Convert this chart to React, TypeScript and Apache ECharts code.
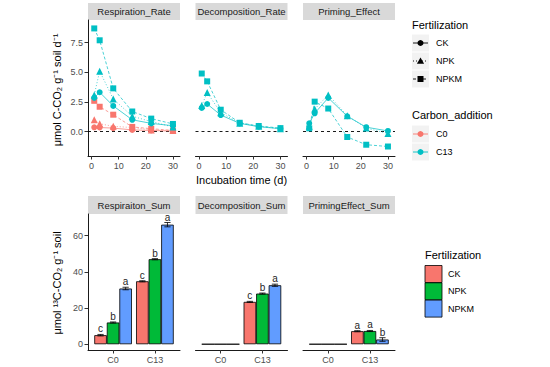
import React, { useEffect, useRef } from "react";
import * as echarts from "echarts";

const FONT = "'Liberation Sans', Arial, Helvetica, sans-serif";

// ---- Top row: rates over incubation time ----
const days = [1, 3, 8, 15, 22, 30];
const timeTicks = [0, 10, 20, 30];
const rateTicks = [0, 2.5, 5, 7.5];

const respC0CK = [0.37, 0.35, 0.3, 0.15, 0.1, 0.05];
const respC0NPK = [1.0, 0.67, 0.45, 0.35, 0.15, 0.1];
const respC0NPKM = [2.6, 2.1, 1.43, 0.4, 0.25, 0.1];
const respC13CK = [2.85, 3.32, 2.17, 1.0, 0.7, 0.5];
const respC13NPK = [3.1, 5.1, 2.76, 1.3, 0.85, 0.4];
const respC13NPKM = [8.7, 7.7, 3.65, 1.7, 1.1, 0.65];

const decC13CK = [2.0, 2.33, 1.4, 0.7, 0.42, 0.25];
const decC13NPK = [2.2, 3.3, 1.6, 0.72, 0.45, 0.25];
const decC13NPKM = [4.9, 4.24, 1.85, 0.75, 0.48, 0.3];

const primC13CK = [0.7, 1.55, 2.85, 1.3, 0.38, 0.06];
const primC13NPK = [0.45, 1.9, 3.1, 1.35, 0.3, -0.15];
const primC13NPKM = [0.28, 2.53, 1.95, -0.45, -1.1, -1.25];

// ---- Bottom row: cumulative sums ----
const groups = ["C0", "C13"];
const sumTicks = [0, 20, 40, 60];

const respSumCK = [5.0, 34.8];
const respSumNPK = [12.0, 47.0];
const respSumNPKM = [30.8, 66.1];
const respErrCK = [0.4, 0.3];
const respErrNPK = [0.3, 0.3];
const respErrNPKM = [0.7, 1.2];
const respLetCK = ["c", "c"];
const respLetNPK = ["b", "b"];
const respLetNPKM = ["a", "a"];

const decSumCK = [0, 23.4];
const decSumNPK = [0, 28.0];
const decSumNPKM = [0, 32.6];
const decErrCK = [0, 0.3];
const decErrNPK = [0, 0.3];
const decErrNPKM = [0, 0.6];
const decLetCK = ["", "c"];
const decLetNPK = ["", "b"];
const decLetNPKM = ["", "a"];

const primSumCK = [0, 7.2];
const primSumNPK = [0, 7.3];
const primSumNPKM = [0, 2.6];
const primErrCK = [0, 0.3];
const primErrNPK = [0, 0.3];
const primErrNPKM = [0, 1.0];
const primLetCK = ["", "a"];
const primLetNPK = ["", "a"];
const primLetNPKM = ["", "b"];

const ferts = ["CK", "NPK", "NPKM"];
const fertColors = ["#F8766D", "#00BA38", "#619CFF"];
const carbonColors: Record<string, string> = { C0: "#F8766D", C13: "#00BFC4" };
const fertSymbols = ["circle", "triangle", "rect"];
const fertDash: any[] = ["solid", [1, 2], [3, 2]];

const topStrips = ["Respiration_Rate", "Decomposition_Rate", "Priming_Effect"];
const bottomStrips = ["Respiraiton_Sum", "Decomposition_Sum", "PrimingEffect_Sum"];

// layout
const panelLefts = [88, 195.5, 303];
const panelW = 92;
const topY = 20;
const bottomY = 214;
const panelH = 136;

function buildOption() {
  const grid: any[] = [];
  const xAxis: any[] = [];
  const yAxis: any[] = [];
  const series: any[] = [];
  const axisLineStyle = { color: "#1a1a1a", width: 1 };
  const labelStyle = { color: "#4d4d4d", fontSize: 9, fontFamily: FONT };

  for (let i = 0; i < 3; i++) {
    grid.push({ left: panelLefts[i], top: topY, width: panelW, height: panelH });
  }
  for (let i = 0; i < 3; i++) {
    grid.push({ left: panelLefts[i], top: bottomY, width: panelW, height: panelH });
  }
  for (let i = 0; i < 3; i++) {
    xAxis.push({
      type: "value",
      gridIndex: i,
      min: -1.3,
      max: 32.6,
      axisLine: { show: true, onZero: false, lineStyle: axisLineStyle },
      axisTick: { show: true, length: 3.5, customValues: timeTicks, lineStyle: { color: "#333" } },
      axisLabel: { customValues: timeTicks, margin: 5, ...labelStyle },
      splitLine: { show: false },
    });
    yAxis.push({
      type: "value",
      gridIndex: i,
      min: -2.05,
      max: 9.41,
      show: i === 0,
      axisLine: { show: true, onZero: false, lineStyle: axisLineStyle },
      axisTick: { show: true, length: 3.5, customValues: rateTicks, lineStyle: { color: "#333" } },
      axisLabel: {
        customValues: rateTicks,
        margin: 5,
        formatter: (v: number) => v.toFixed(1),
        ...labelStyle,
      },
      splitLine: { show: false },
    });
  }
  for (let i = 0; i < 3; i++) {
    xAxis.push({
      type: "value",
      gridIndex: 3 + i,
      min: 0.4,
      max: 2.6,
      axisLine: { show: true, onZero: false, lineStyle: axisLineStyle },
      axisTick: { show: true, length: 3.5, customValues: [1, 2], lineStyle: { color: "#333" } },
      axisLabel: {
        customValues: [1, 2],
        margin: 5,
        formatter: (v: number) => groups[Math.round(v) - 1] ?? "",
        ...labelStyle,
      },
      splitLine: { show: false },
    });
    yAxis.push({
      type: "value",
      gridIndex: 3 + i,
      min: -3.2,
      max: 72,
      show: i === 0,
      axisLine: { show: true, onZero: false, lineStyle: axisLineStyle },
      axisTick: { show: true, length: 3.5, customValues: sumTicks, lineStyle: { color: "#333" } },
      axisLabel: { customValues: sumTicks, margin: 5, ...labelStyle },
      splitLine: { show: false },
    });
  }

  const lineSeries = (g: number, carbon: string, f: number, vals: number[], withZero: boolean) => {
    const color = carbonColors[carbon];
    const s: any = {
      type: "line",
      name: `${carbon}-${ferts[f]}`,
      xAxisIndex: g,
      yAxisIndex: g,
      data: days.map((d, k) => [d, vals[k]]),
      symbol: fertSymbols[f],
      symbolSize: f === 1 ? 7 : 6,
      showAllSymbol: true,
      lineStyle: { color, width: 0.7, type: fertDash[f] },
      itemStyle: { color },
      z: 3,
    };
    if (withZero) {
      s.markLine = {
        silent: true,
        symbol: "none",
        label: { show: false },
        lineStyle: { color: "#000", type: [3, 3], width: 0.9 },
        data: [{ yAxis: 0 }],
        z: 1,
      };
    }
    return s;
  };

  series.push(lineSeries(0, "C0", 0, respC0CK, true));
  series.push(lineSeries(0, "C0", 1, respC0NPK, false));
  series.push(lineSeries(0, "C0", 2, respC0NPKM, false));
  series.push(lineSeries(0, "C13", 0, respC13CK, false));
  series.push(lineSeries(0, "C13", 1, respC13NPK, false));
  series.push(lineSeries(0, "C13", 2, respC13NPKM, false));
  series.push(lineSeries(1, "C13", 0, decC13CK, true));
  series.push(lineSeries(1, "C13", 1, decC13NPK, false));
  series.push(lineSeries(1, "C13", 2, decC13NPKM, false));
  series.push(lineSeries(2, "C13", 0, primC13CK, true));
  series.push(lineSeries(2, "C13", 1, primC13NPK, false));
  series.push(lineSeries(2, "C13", 2, primC13NPKM, false));

  const barPanel = (g: number, vals: number[][], errs: number[][], lets: string[][]) => {
    for (let f = 0; f < 3; f++) {
      series.push({
        type: "bar",
        name: ferts[f],
        xAxisIndex: g,
        yAxisIndex: g,
        data: groups.map((_, i) => [i + 1, vals[f][i]]),
        barWidth: "30%",
        barGap: "0%",
        itemStyle: { color: fertColors[f], borderColor: "#000", borderWidth: 0.8 },
        z: 2,
      });
    }
    const data: number[][] = [];
    for (let f = 0; f < 3; f++) {
      for (let i = 0; i < groups.length; i++) data.push([i + 1, vals[f][i], errs[f][i], f]);
    }
    series.push({
      type: "custom",
      xAxisIndex: g,
      yAxisIndex: g,
      z: 5,
      data,
      renderItem: (_p: any, api: any) => {
        const x = api.value(0);
        const v = api.value(1);
        const e = api.value(2);
        const f = api.value(3);
        const bw = api.size([0.3, 0])[0];
        const base = api.coord([x, v]);
        const cx = base[0] + (f - 1) * bw;
        const top = api.coord([x, v + e]);
        const bot = api.coord([x, v - e]);
        const cap = bw * 0.25;
        const children: any[] = [];
        if (e > 0) {
          const ls = { stroke: "#000", lineWidth: 0.8 };
          children.push({ type: "line", shape: { x1: cx, y1: top[1], x2: cx, y2: bot[1] }, style: ls });
          children.push({ type: "line", shape: { x1: cx - cap, y1: top[1], x2: cx + cap, y2: top[1] }, style: ls });
          children.push({ type: "line", shape: { x1: cx - cap, y1: bot[1], x2: cx + cap, y2: bot[1] }, style: ls });
        }
        const letter = lets[f][Math.round(x) - 1];
        if (letter) {
          children.push({
            type: "text",
            x: cx,
            y: top[1] - 0.5,
            style: {
              text: letter,
              align: "center",
              verticalAlign: "bottom",
              fontSize: 10,
              fontFamily: FONT,
              fill: "#262626",
            },
          });
        }
        return { type: "group", children };
      },
    });
  };

  barPanel(3, [respSumCK, respSumNPK, respSumNPKM], [respErrCK, respErrNPK, respErrNPKM], [respLetCK, respLetNPK, respLetNPKM]);
  barPanel(4, [decSumCK, decSumNPK, decSumNPKM], [decErrCK, decErrNPK, decErrNPKM], [decLetCK, decLetNPK, decLetNPKM]);
  barPanel(5, [primSumCK, primSumNPK, primSumNPKM], [primErrCK, primErrNPK, primErrNPKM], [primLetCK, primLetNPK, primLetNPKM]);

  // ---- graphics: strips, titles, legends ----
  const graphic: any[] = [];
  const strip = (x: number, y: number, h: number, label: string) => {
    graphic.push({ type: "rect", shape: { x, y, width: panelW, height: h }, style: { fill: "#D9D9D9" }, silent: true });
    graphic.push({
      type: "text",
      x: x + panelW / 2,
      y: y + h / 2,
      style: { text: label, align: "center", verticalAlign: "middle", fontSize: 9.5, fontFamily: FONT, fill: "#1a1a1a" },
      silent: true,
    });
  };
  for (let i = 0; i < 3; i++) {
    strip(panelLefts[i], 3, 17, topStrips[i]);
    strip(panelLefts[i], 196, 18, bottomStrips[i]);
  }
  const txt = (x: number, y: number, text: string, size: number, extra: any = {}) => {
    graphic.push({
      type: "text",
      x,
      y,
      ...extra,
      style: { text, fontSize: size, fontFamily: FONT, fill: "#000", align: "left", verticalAlign: "middle", ...(extra.style || {}) },
      silent: true,
    });
  };
  txt(241.5, 180, "Incubation time (d)", 11, { style: { align: "center" } });
  txt(57, 90, "μmol C-CO₂ g⁻¹ soil d⁻¹", 11, { rotation: Math.PI / 2, style: { align: "center" } });
  txt(57, 283, "μmol ¹³C-CO₂ g⁻¹ soil", 11, { rotation: Math.PI / 2, style: { align: "center" } });

  // top legend: Fertilization (shapes / line types)
  const lgX = 412;
  txt(lgX, 25, "Fertilization", 11);
  const marker = (cx: number, cy: number, f: number, color: string) => {
    if (f === 0) graphic.push({ type: "circle", shape: { cx, cy, r: 3 }, style: { fill: color }, silent: true });
    else if (f === 1)
      graphic.push({
        type: "polygon",
        shape: { points: [[cx, cy - 3.6], [cx + 3.6, cy + 2.8], [cx - 3.6, cy + 2.8]] },
        style: { fill: color },
        silent: true,
      });
    else graphic.push({ type: "rect", shape: { x: cx - 3, y: cy - 3, width: 6, height: 6 }, style: { fill: color }, silent: true });
  };
  const keyBg = (y: number) =>
    graphic.push({ type: "rect", shape: { x: lgX, y: y - 8.5, width: 17, height: 17 }, style: { fill: "#F2F2F2" }, silent: true });
  const fertY = [43, 61, 79];
  const lineDashes: any[] = [null, [1, 2], [3, 2]];
  for (let f = 0; f < 3; f++) {
    const y = fertY[f];
    keyBg(y);
    graphic.push({
      type: "line",
      shape: { x1: lgX + 1, y1: y, x2: lgX + 16, y2: y },
      style: { stroke: "#000", lineWidth: 0.9, lineDash: lineDashes[f] },
      silent: true,
    });
    marker(lgX + 8.5, y, f, "#000");
    txt(436, y, ferts[f], 9);
  }
  txt(lgX, 115, "Carbon_addition", 11);
  const carbY = [134, 152];
  ["C0", "C13"].forEach((c, k) => {
    const y = carbY[k];
    keyBg(y);
    graphic.push({
      type: "line",
      shape: { x1: lgX + 1, y1: y, x2: lgX + 16, y2: y },
      style: { stroke: carbonColors[c], lineWidth: 0.9 },
      silent: true,
    });
    marker(lgX + 8.5, y, 0, carbonColors[c]);
    txt(436, y, c, 9);
  });

  // bottom legend: Fertilization (fills)
  const blX = 425;
  txt(blX, 255, "Fertilization", 11);
  for (let f = 0; f < 3; f++) {
    const y = 265.5 + f * 17.3;
    graphic.push({
      type: "rect",
      shape: { x: blX, y, width: 17, height: 17 },
      style: { fill: fertColors[f], stroke: "#000", lineWidth: 0.8 },
      silent: true,
    });
    txt(448, y + 8.5, ferts[f], 9);
  }

  return {
    animation: false,
    backgroundColor: "#fff",
    textStyle: { fontFamily: FONT },
    grid,
    xAxis,
    yAxis,
    series,
    graphic,
  };
}

export default function App() {
  const ref = useRef<HTMLDivElement>(null);
  useEffect(() => {
    document.body.style.margin = "0";
    const chart = echarts.init(ref.current!, null, { renderer: "svg" });
    chart.setOption(buildOption() as any);
    return () => chart.dispose();
  }, []);
  return <div ref={ref} style={{ width: 550, height: 367 }} />;
}
